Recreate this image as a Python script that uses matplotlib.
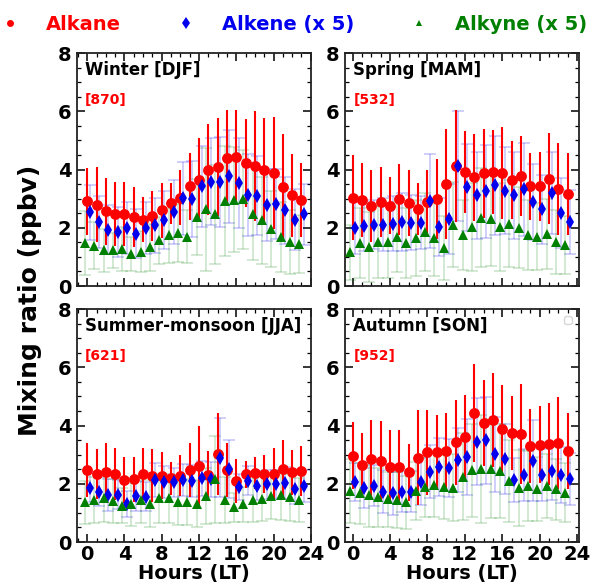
import numpy as np
import matplotlib
matplotlib.use('Agg')
import matplotlib.pyplot as plt
from matplotlib.lines import Line2D
from matplotlib.ticker import MultipleLocator

plt.rcParams['font.family'] = ['DejaVu Sans']
plt.rcParams['font.weight'] = 'bold'

hours = np.arange(24)

# ---- Winter [DJF] ----
winter_alkane = [2.91, 2.79, 2.56, 2.49, 2.49, 2.37, 2.28, 2.40, 2.60, 2.84, 3.04, 3.42,
                 3.65, 4.00, 4.08, 4.39, 4.43, 4.23, 4.12, 3.97, 3.88, 3.39, 3.12, 2.96]
winter_alkane_sd = [1.15, 1.29, 1.15, 1.10, 1.10, 1.02, 0.77, 0.85, 0.94, 0.70, 0.94, 1.16,
                    1.45, 1.57, 1.68, 1.64, 1.60, 1.51, 1.88, 1.79, 1.92, 1.83, 1.42, 1.27]
winter_alkene = [2.53, 2.20, 1.94, 1.86, 2.00, 1.80, 2.00, 2.09, 2.26, 2.55, 3.01, 2.98,
                 3.42, 3.59, 3.57, 3.77, 3.54, 3.13, 3.10, 2.78, 2.81, 2.61, 2.28, 2.47]
winter_alkene_sd = [0.95, 0.90, 0.85, 0.85, 0.90, 0.85, 0.90, 0.95, 1.00, 1.10, 1.25, 1.30,
                    1.40, 1.50, 1.55, 1.60, 1.55, 1.40, 1.35, 1.25, 1.20, 1.15, 1.05, 1.05]
winter_alkyne = [1.47, 1.39, 1.22, 1.22, 1.28, 1.10, 1.18, 1.33, 1.57, 1.74, 1.82, 1.70,
                 2.38, 2.63, 2.46, 2.92, 2.96, 2.98, 2.49, 2.26, 1.95, 1.68, 1.51, 1.43]
winter_alkyne_sd = [1.10, 0.80, 0.75, 0.60, 0.75, 0.60, 0.70, 0.80, 0.80, 0.95, 1.00, 0.90,
                    1.30, 2.10, 1.70, 1.90, 1.80, 1.70, 1.60, 1.50, 1.30, 1.20, 1.10, 1.00]

# ---- Spring [MAM] ----
spring_alkane = [3.04, 2.96, 2.76, 2.88, 2.76, 2.98, 2.84, 2.64, 2.88, 2.98, 3.51, 4.12,
                 3.92, 3.73, 3.88, 3.92, 3.88, 3.65, 3.77, 3.42, 3.42, 3.69, 3.33, 3.15]
spring_alkane_sd = [1.46, 1.27, 1.24, 1.20, 0.97, 1.22, 1.13, 0.90, 1.12, 1.37, 1.90, 1.91,
                    1.41, 1.49, 1.53, 1.45, 1.57, 1.34, 1.37, 1.14, 1.19, 1.55, 1.57, 1.41]
spring_alkene = [1.99, 2.05, 2.11, 2.11, 2.14, 2.20, 2.18, 2.18, 2.92, 2.03, 2.30, 4.12,
                 3.39, 3.11, 3.25, 3.46, 3.28, 3.11, 3.33, 2.88, 2.63, 3.19, 2.52, 2.20]
spring_alkene_sd = [0.90, 0.85, 0.85, 0.90, 0.95, 1.00, 0.95, 0.90, 1.60, 1.00, 1.20, 1.90,
                    1.50, 1.50, 1.60, 1.70, 1.50, 1.50, 1.60, 1.30, 1.20, 1.40, 1.20, 1.10]
spring_alkyne = [1.16, 1.47, 1.33, 1.51, 1.51, 1.68, 1.48, 1.65, 1.86, 1.66, 1.30, 2.11,
                 1.74, 2.03, 2.35, 2.30, 2.03, 2.14, 2.01, 1.74, 1.70, 1.80, 1.51, 1.41]
spring_alkyne_sd = [0.95, 1.20, 1.20, 1.25, 1.25, 1.20, 1.20, 1.30, 1.35, 1.30, 1.10, 1.45,
                    1.20, 1.50, 1.70, 1.60, 1.50, 1.50, 1.40, 1.20, 1.15, 1.20, 1.10, 1.00]

# ---- Summer-monsoon [JJA] ----
summer_alkane = [2.47, 2.34, 2.42, 2.34, 2.13, 2.15, 2.34, 2.28, 2.28, 2.19, 2.28, 2.47,
                 2.61, 2.30, 3.03, 2.47, 2.09, 2.32, 2.36, 2.34, 2.34, 2.51, 2.39, 2.44]
summer_alkane_sd = [0.92, 0.85, 0.97, 0.88, 0.78, 0.76, 0.88, 0.91, 0.80, 0.57, 0.71, 0.92,
                    1.36, 0.81, 1.40, 0.92, 0.75, 0.48, 0.55, 0.65, 0.88, 1.00, 0.77, 0.87]
summer_alkene = [1.86, 1.73, 1.61, 1.63, 1.32, 1.58, 1.55, 2.13, 2.05, 2.05, 2.13, 2.11,
                 2.19, 2.15, 2.90, 2.51, 1.90, 2.11, 1.93, 1.99, 1.99, 2.04, 1.82, 1.93]
summer_alkene_sd = [0.50, 0.50, 0.55, 0.50, 0.45, 0.50, 0.50, 0.60, 0.55, 0.50, 0.55, 0.55,
                    0.60, 0.60, 1.35, 1.00, 0.45, 0.50, 0.50, 0.50, 0.50, 0.55, 0.50, 0.55]
summer_alkyne = [1.36, 1.44, 1.50, 1.40, 1.24, 1.29, 1.44, 1.32, 1.50, 1.50, 1.38, 1.38,
                 1.32, 1.58, 2.15, 1.44, 1.19, 1.30, 1.44, 1.47, 1.58, 1.61, 1.53, 1.44]
summer_alkyne_sd = [0.75, 0.80, 0.80, 0.75, 0.60, 0.75, 0.80, 0.80, 0.85, 0.85, 0.80, 0.80,
                    0.80, 0.95, 1.50, 0.80, 0.50, 0.60, 0.75, 0.75, 0.80, 0.85, 0.80, 0.75]

# ---- Autumn [SON] ----
autumn_alkane = [2.97, 2.65, 2.85, 2.78, 2.59, 2.59, 2.39, 2.90, 3.08, 3.08, 3.13, 3.43,
                 3.62, 4.43, 4.09, 4.20, 3.89, 3.74, 3.71, 3.31, 3.34, 3.37, 3.39, 3.13]
autumn_alkane_sd = [1.15, 1.09, 1.35, 1.39, 1.26, 1.26, 0.97, 1.62, 1.47, 1.29, 1.30, 1.46,
                    1.44, 1.67, 1.49, 1.61, 1.52, 1.27, 1.72, 1.27, 1.32, 1.41, 1.58, 1.30]
autumn_alkene = [2.07, 1.86, 1.93, 1.73, 1.67, 1.73, 1.73, 2.07, 2.42, 2.59, 2.53, 2.82,
                 2.93, 3.45, 3.49, 3.01, 2.85, 2.13, 2.30, 2.80, 2.30, 2.44, 2.30, 2.16]
autumn_alkene_sd = [0.65, 0.70, 0.70, 0.75, 0.75, 0.70, 0.70, 0.80, 0.90, 1.00, 1.00, 1.10,
                    1.30, 1.50, 1.50, 1.30, 1.20, 0.75, 0.90, 1.40, 0.90, 1.00, 0.95, 0.90]
autumn_alkyne = [1.75, 1.67, 1.63, 1.53, 1.47, 1.44, 1.36, 1.75, 1.90, 1.96, 1.90, 1.86,
                 2.24, 2.47, 2.51, 2.51, 2.44, 2.09, 1.86, 1.93, 1.81, 1.93, 1.81, 1.70]
autumn_alkyne_sd = [1.10, 1.05, 1.10, 1.00, 0.95, 0.95, 0.90, 1.00, 1.05, 1.10, 1.10, 1.15,
                    1.50, 1.60, 1.85, 1.70, 1.60, 1.40, 1.30, 1.20, 1.10, 1.10, 1.05, 1.00]

season_names = ['Winter [DJF]', 'Spring [MAM]', 'Summer-monsoon [JJA]', 'Autumn [SON]']
sample_counts = ['[870]', '[532]', '[621]', '[952]']

seasons = [
    (winter_alkane, winter_alkane_sd, winter_alkene, winter_alkene_sd, winter_alkyne, winter_alkyne_sd),
    (spring_alkane, spring_alkane_sd, spring_alkene, spring_alkene_sd, spring_alkyne, spring_alkyne_sd),
    (summer_alkane, summer_alkane_sd, summer_alkene, summer_alkene_sd, summer_alkyne, summer_alkyne_sd),
    (autumn_alkane, autumn_alkane_sd, autumn_alkene, autumn_alkene_sd, autumn_alkyne, autumn_alkyne_sd),
]

RED = '#ff0000'
BLUE = '#0000ee'
GREEN = '#008000'

fig = plt.figure(figsize=(5.92, 5.88), dpi=100)

ax_w, ax_h = 0.395, 0.396
positions = [(0.130, 0.5136), (0.583, 0.5136), (0.130, 0.0782), (0.583, 0.0782)]

for i, (pos, data) in enumerate(zip(positions, seasons)):
    ak, ak_sd, ae, ae_sd, ay, ay_sd = data
    ax = fig.add_axes([pos[0], pos[1], ax_w, ax_h])

    # alkane
    ax.errorbar(hours, ak, yerr=ak_sd, fmt='o', color=RED, ms=7.8, mew=0,
                elinewidth=1.5, capsize=4, capthick=1.5, zorder=3)
    # alkene (x5)
    ax.errorbar(hours + 0.27, ae, yerr=ae_sd, fmt='none', ecolor=BLUE, alpha=0.22,
                elinewidth=1.2, capsize=4, capthick=1.2, zorder=2)
    ax.plot(hours + 0.27, ae, 'd', color=BLUE, ms=7.5, mew=0, zorder=4)
    # alkyne (x5)
    ax.errorbar(hours - 0.25, ay, yerr=ay_sd, fmt='none', ecolor=GREEN, alpha=0.2,
                elinewidth=1.2, capsize=4, capthick=1.2, zorder=2)
    ax.plot(hours - 0.25, ay, '^', color=GREEN, ms=6.5, mew=0, zorder=5)

    ax.set_ylim(0, 8)
    if i % 2 == 0:
        ax.set_xlim(-1.1, 24.0)
    else:
        ax.set_xlim(-0.8, 24.2)
    ax.xaxis.set_major_locator(MultipleLocator(4))
    ax.xaxis.set_minor_locator(MultipleLocator(1))
    ax.yaxis.set_major_locator(MultipleLocator(2))
    ax.yaxis.set_minor_locator(MultipleLocator(0.5))
    ax.tick_params(which='both', direction='in', top=True, right=True, labelsize=14)
    ax.tick_params(axis='x', pad=2)
    ax.tick_params(axis='y', pad=4)
    ax.tick_params(which='major', length=6, width=1.1)
    ax.tick_params(which='minor', length=3, width=0.9)
    for lab in ax.get_xticklabels() + ax.get_yticklabels():
        lab.set_fontweight('bold')
    for sp in ax.spines.values():
        sp.set_linewidth(1.3)
        sp.set_color('#222222')

    if i < 2:
        ax.set_xticklabels([])
    else:
        ax.set_xlabel('Hours (LT)', fontsize=14, fontweight='bold', labelpad=0)

    ax.text(0.035, 0.927, season_names[i], transform=ax.transAxes, fontsize=12,
            fontweight='bold', ha='left', va='center', clip_on=True)
    ax.text(0.035, 0.80, sample_counts[i], transform=ax.transAxes, fontsize=10,
            fontweight='bold', color=RED, ha='left', va='center')

    if i == 3:
        ax.legend(handles=[], loc='upper right', borderpad=0.3)

fig.text(0.05, 0.49, 'Mixing ratio (ppbv)', rotation=90, fontsize=18,
         fontweight='bold', ha='center', va='center')

handles = [
    Line2D([], [], ls='none', marker='o', color=RED, ms=5, mew=0),
    Line2D([], [], ls='none', marker='d', color=BLUE, ms=6, mew=0),
    Line2D([], [], ls='none', marker='^', color=GREEN, ms=5, mew=0),
]
fig.legend(handles, ['Alkane', 'Alkene (x 5)', 'Alkyne (x 5)'], ncol=3,
           loc='upper left', bbox_to_anchor=(0.0, 0.975), frameon=False,
           prop={'size': 14, 'weight': 'bold'}, labelcolor=[RED, BLUE, GREEN],
           handlelength=1.0, handletextpad=1.35, columnspacing=2.85,
           borderpad=0.0, borderaxespad=0.0)

fig.savefig('out.png', dpi=100)
